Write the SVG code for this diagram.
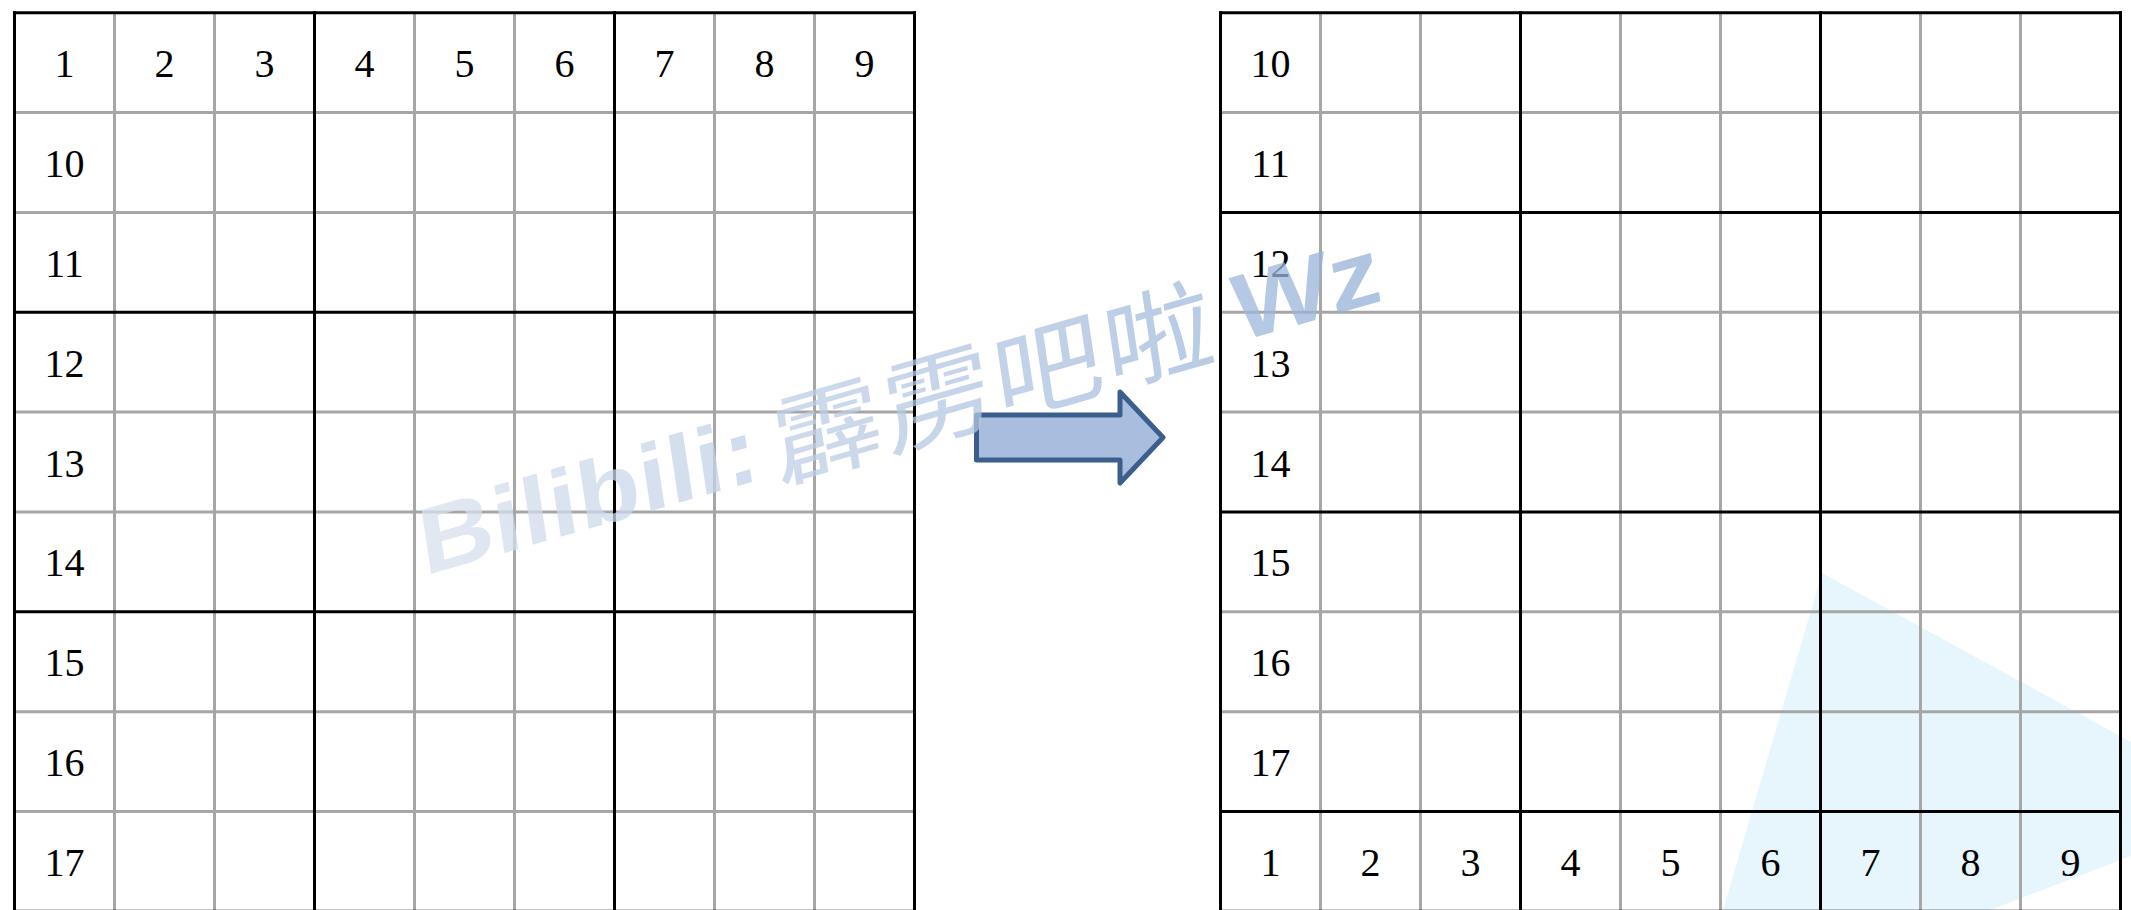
<svg xmlns="http://www.w3.org/2000/svg" width="2131" height="910" viewBox="0 0 2131 910">
<defs>
<style>
.thin{stroke:#a6a6a6;stroke-width:3;fill:none}
.thick{stroke:#000;stroke-width:3;fill:none;stroke-linecap:square}
.num{font-family:"Liberation Serif","Times New Roman",serif;font-size:40px;fill:#000;text-anchor:middle}
</style>
<linearGradient id="wmGrad" gradientUnits="userSpaceOnUse" x1="0" y1="0" x2="890" y2="0">
<stop offset="0" stop-color="#d8e1ee"/>
<stop offset="1" stop-color="#94b0d8"/>
</linearGradient>
</defs>
<rect width="2131" height="910" fill="#fff"/>
<polygon id="bg-shape" points="1822,573 2131,742 2131,856 1990,910 1723,910" fill="#e7f6fc"/>

<g id="left-grid">
<g class="thin">
<path d="M114.5,12.7V911.35M214.5,12.7V911.35M414.5,12.7V911.35M514.5,12.7V911.35M714.5,12.7V911.35M814.5,12.7V911.35"/>
<path d="M14.5,112.55H914.5M14.5,212.4H914.5M14.5,412.1H914.5M14.5,511.95H914.5M14.5,711.65H914.5M14.5,811.5H914.5"/>
</g>
<g class="thick">
<path d="M14.5,12.7V911.35M314.5,12.7V911.35M614.5,12.7V911.35M914.5,12.7V911.35"/>
<path d="M14.5,12.7H914.5M14.5,312.25H914.5M14.5,611.8H914.5M14.5,911.35H914.5"/>
</g>
<g class="num">
<text x="64.5" y="77.1">1</text><text x="164.5" y="77.1">2</text><text x="264.5" y="77.1">3</text>
<text x="364.5" y="77.1">4</text><text x="464.5" y="77.1">5</text><text x="564.5" y="77.1">6</text>
<text x="664.5" y="77.1">7</text><text x="764.5" y="77.1">8</text><text x="864.5" y="77.1">9</text>
<text x="64.5" y="177">10</text><text x="64.5" y="276.8">11</text><text x="64.5" y="376.7">12</text>
<text x="64.5" y="476.5">13</text><text x="64.5" y="576.4">14</text><text x="64.5" y="676.2">15</text>
<text x="64.5" y="776.1">16</text><text x="64.5" y="875.9">17</text>
</g>
</g>

<g id="right-grid">
<g class="thin">
<path d="M1320.5,12.7V911.35M1420.5,12.7V911.35M1620.5,12.7V911.35M1720.5,12.7V911.35M1920.5,12.7V911.35M2020.5,12.7V911.35"/>
<path d="M1220.5,112.55H2120.5M1220.5,312.25H2120.5M1220.5,412.1H2120.5M1220.5,611.8H2120.5M1220.5,711.65H2120.5"/>
</g>
<g class="thick">
<path d="M1220.5,12.7V911.35M1520.5,12.7V911.35M1820.5,12.7V911.35M2120.5,12.7V911.35"/>
<path d="M1220.5,12.7H2120.5M1220.5,212.4H2120.5M1220.5,511.95H2120.5M1220.5,811.5H2120.5M1220.5,911.35H2120.5"/>
</g>
<g class="num">
<text x="1270.5" y="77.1">10</text><text x="1270.5" y="177">11</text><text x="1270.5" y="276.8">12</text>
<text x="1270.5" y="376.7">13</text><text x="1270.5" y="476.5">14</text><text x="1270.5" y="576.4">15</text>
<text x="1270.5" y="676.2">16</text><text x="1270.5" y="776.1">17</text>
<text x="1270.5" y="875.9">1</text><text x="1370.5" y="875.9">2</text><text x="1470.5" y="875.9">3</text>
<text x="1570.5" y="875.9">4</text><text x="1670.5" y="875.9">5</text><text x="1770.5" y="875.9">6</text>
<text x="1870.5" y="875.9">7</text><text x="1970.5" y="875.9">8</text><text x="2070.5" y="875.9">9</text>
</g>
</g>

<g id="connectors">
<path id="arrow" d="M976.5,415 H1120 V392 L1163,437.5 L1120,483 V460 H976.5 Z" fill="#a9bedf" stroke="#3b5e8d" stroke-width="5" stroke-linejoin="round"/>
</g>

<g id="watermark" transform="matrix(1.076 -0.309 0.148 0.989 431 574)" fill="url(#wmGrad)" fill-opacity="0.75">
<text x="-6" y="0" font-family="'Liberation Sans', Arial, sans-serif" font-weight="bold" font-size="94">Bilibili:</text>
<text x="322 425 527 630" y="8" font-family="'Noto Sans CJK SC', sans-serif" font-size="100">霹雳吧啦</text>
<text x="750" y="0" font-family="'Liberation Sans', Arial, sans-serif" font-weight="bold" font-size="94">Wz</text>
</g>
</svg>
